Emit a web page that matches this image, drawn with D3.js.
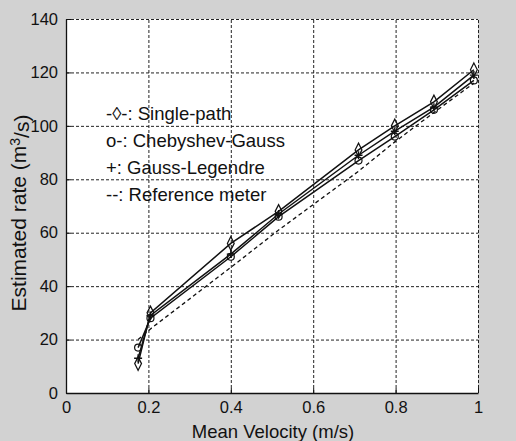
<!DOCTYPE html>
<html>
<head>
<meta charset="utf-8">
<script src="https://cdn.jsdelivr.net/npm/d3@7"></script>
<style>
  html, body { margin: 0; padding: 0; background: #d2d2d2; }
  svg { display: block; }
  text { font-family: "Liberation Sans", Arial, Helvetica, sans-serif; fill: #111; }
</style>
</head>
<body>
<div id="chart"></div>
<script>
// mean velocity (m/s) at each test point
var velocity = [0.175, 0.205, 0.4, 0.516, 0.71, 0.798, 0.893, 0.99];

// estimated flow rate (m^3/s)
var singlePath     = [11, 30, 56, 68, 91, 100, 109, 121];
var chebyshevGauss = [17, 28, 51, 66, 87, 96, 106, 117];
var gaussLegendre  = [13, 29, 52, 67, 89, 98, 107, 119];
var referenceMeter = [20, 24, 47, 61, 83, 94, 105, 116];

var xTicks = [0, 0.2, 0.4, 0.6, 0.8, 1];
var yTicks = [0, 20, 40, 60, 80, 100, 120, 140];

var legendLabels = [
  "-\u25CA-: Single-path",
  "o-: Chebyshev-Gauss",
  "+: Gauss-Legendre",
  "--: Reference meter"
];

var width = 516, height = 441;
var margin = { top: 19, right: 38, bottom: 48, left: 66 };

var svg = d3.select("#chart").append("svg")
  .attr("width", width)
  .attr("height", height);

var xScale = d3.scaleLinear().domain([0, 1]).range([margin.left, width - margin.right]);
var yScale = d3.scaleLinear().domain([0, 140]).range([height - margin.bottom, margin.top]);

// white plot area
svg.append("rect")
  .attr("x", xScale(0))
  .attr("y", yScale(140))
  .attr("width", xScale(1) - xScale(0))
  .attr("height", yScale(0) - yScale(140))
  .attr("fill", "#fff");

// dotted grid
var grid = svg.append("g").attr("class", "grid")
  .attr("stroke", "#222").attr("stroke-width", 1).attr("stroke-dasharray", "3,2");
grid.selectAll(".gx").data(xTicks.slice(1)).enter().append("line")
  .attr("x1", function(d){ return xScale(d) + 0.5 })
  .attr("x2", function(d){ return xScale(d) + 0.5 })
  .attr("y1", yScale(0)).attr("y2", yScale(140));
grid.selectAll(".gy").data(yTicks.slice(1)).enter().append("line")
  .attr("y1", function(d){ return yScale(d) + 0.5 })
  .attr("y2", function(d){ return yScale(d) + 0.5 })
  .attr("x1", xScale(0)).attr("x2", xScale(1));

// axes
var xAxisGen = d3.axisBottom(xScale).tickValues(xTicks).tickSizeInner(-5).tickSizeOuter(0)
  .tickPadding(12).tickFormat(function(d){ return d3.format("")(d) });
var yAxisGen = d3.axisLeft(yScale).tickValues(yTicks).tickSizeInner(-5).tickSizeOuter(0)
  .tickPadding(8);

var xAxis = svg.append("g")
  .attr("transform", "translate(0," + yScale(0) + ")")
  .call(xAxisGen);
var yAxis = svg.append("g")
  .attr("transform", "translate(" + xScale(0) + ",0)")
  .call(yAxisGen);

[xAxis, yAxis].forEach(function(a){
  a.select(".domain").attr("stroke", "#111").attr("stroke-width", 1.3);
  a.selectAll(".tick line").attr("stroke", "#111");
  a.selectAll(".tick text").style("font-size", "16.5px").attr("fill", "#111");
});
xAxis.selectAll(".tick text").attr("dy", "0.5em");

// axis titles
svg.append("text")
  .attr("x", xScale(0.5) + 1)
  .attr("y", 438)
  .attr("text-anchor", "middle")
  .style("font-size", "18.5px")
  .text("Mean Velocity (m/s)");

var yTitle = svg.append("text")
  .attr("transform", "translate(26," + 213 + ") rotate(-90)")
  .attr("text-anchor", "middle")
  .style("font-size", "21px");
yTitle.append("tspan").text("Estimated rate (m");
yTitle.append("tspan").attr("dy", "-0.45em").style("font-size", "14px").text("3");
yTitle.append("tspan").attr("dy", "0.45em").text("/s)");

// series
var line = d3.line()
  .x(function(d){ return xScale(d[0]) })
  .y(function(d){ return yScale(d[1]) });

function pairs(values) {
  return velocity.map(function(v, i){ return [v, values[i]] });
}

svg.append("path")
  .datum(pairs(referenceMeter))
  .attr("d", line)
  .attr("fill", "none")
  .attr("stroke", "#111")
  .attr("stroke-width", 1.3)
  .attr("stroke-dasharray", "4,3");

[singlePath, chebyshevGauss, gaussLegendre].forEach(function(s){
  svg.append("path")
    .datum(pairs(s))
    .attr("d", line)
    .attr("fill", "none")
    .attr("stroke", "#111")
    .attr("stroke-width", 1.5);
});

var diamond = d3.symbol().type(d3.symbolDiamond).size(40);
svg.selectAll(".dia").data(pairs(singlePath)).enter().append("path")
  .attr("d", diamond)
  .attr("transform", function(d){ return "translate(" + xScale(d[0]) + "," + yScale(d[1]) + ") scale(1,1.15)" })
  .attr("fill", "none").attr("stroke", "#111").attr("stroke-width", 1.2);

svg.selectAll(".circ").data(pairs(chebyshevGauss)).enter().append("circle")
  .attr("cx", function(d){ return xScale(d[0]) })
  .attr("cy", function(d){ return yScale(d[1]) })
  .attr("r", 3.5)
  .attr("fill", "none").attr("stroke", "#111").attr("stroke-width", 1.2);

svg.selectAll(".plus").data(pairs(gaussLegendre)).enter().append("path")
  .attr("d", "M-4,0H4M0,-4V4")
  .attr("transform", function(d){ return "translate(" + xScale(d[0]) + "," + yScale(d[1]) + ")" })
  .attr("fill", "none").attr("stroke", "#111").attr("stroke-width", 1.4);

// legend text
svg.selectAll(".legend").data(legendLabels).enter().append("text")
  .attr("x", 106)
  .attr("y", function(d, i){ return 120 + i * 27 })
  .style("font-size", "18.5px")
  .text(function(d){ return d });
</script>
</body>
</html>
